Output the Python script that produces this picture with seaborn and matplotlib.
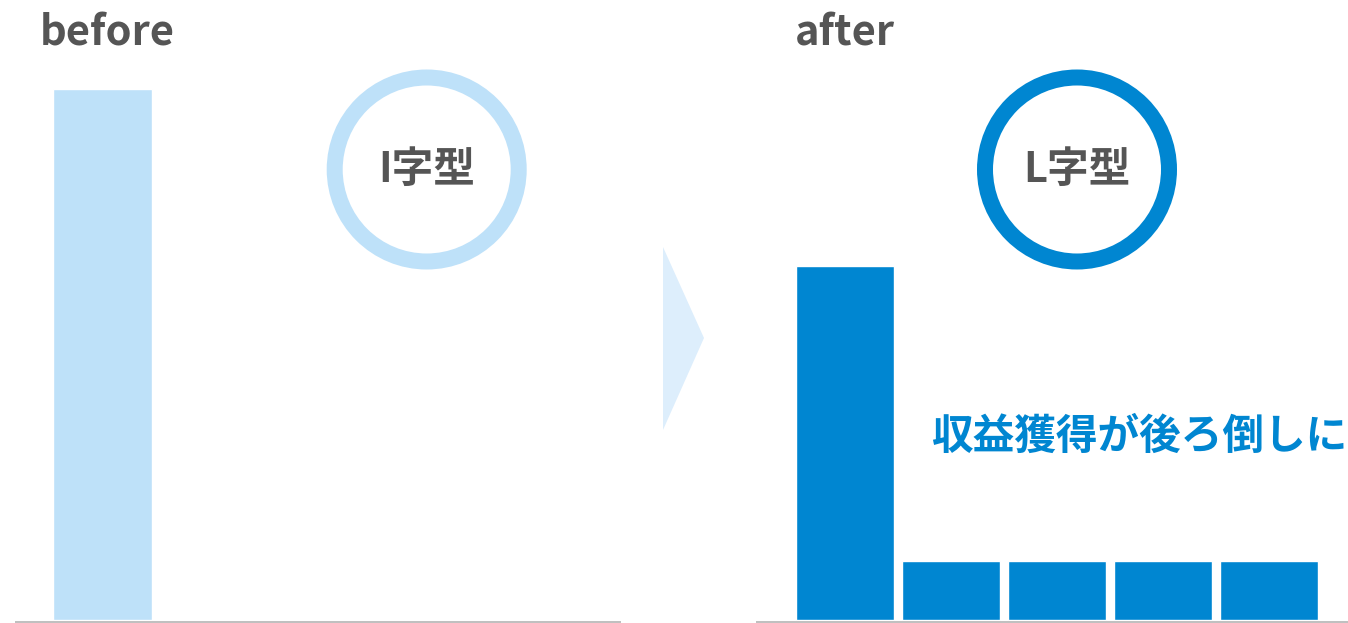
import matplotlib
matplotlib.use("Agg")
import matplotlib.pyplot as plt
from matplotlib.patches import Ellipse, Polygon
import pandas as pd
import seaborn as sns

# ---- data -------------------------------------------------------------
before_periods = ["1"]
before_values = [9]
after_periods = ["1", "2", "3", "4", "5"]
after_values = [6, 1, 1, 1, 1]

panel_titles = ["before", "after"]
shape_labels = ["I字型", "L字型"]
note_text = "収益獲得が後ろ倒しに"

# ---- style ------------------------------------------------------------
LIGHT_BLUE = "#bee1f9"
BLUE = "#0086d1"
ARROW_BLUE = "#ddeefc"
TEXT_GRAY = "#555555"
BASE_GRAY = "#c0c0c0"

sns.set_theme(style="white")
plt.rcParams["font.family"] = ["Noto Sans CJK JP", "DejaVu Sans"]

W, H = 1348, 623
fig = plt.figure(figsize=(W / 100, H / 100), dpi=100)
fig.patch.set_facecolor("white")


def fx(px):
    return px / W


def fy(py):
    return 1 - py / H


PX_PER_X = 106.0   # horizontal pixels per category step
PX_PER_Y = 59.0    # vertical pixels per value unit
AXIS_PY = 621.5    # pixel row of the axis line centre (from top)
ZERO_PY = 620.0    # pixel row where bars start


def make_panel(left_px, right_px, first_center_px, periods, values, color):
    ax = fig.add_axes([fx(left_px), fy(AXIS_PY), (right_px - left_px) / W, AXIS_PY / H])
    df = pd.DataFrame({"period": periods, "value": values})
    sns.barplot(data=df, x="period", y="value", color=color, saturation=1,
                width=0.925, ax=ax, errorbar=None)
    ax.set_xlim(-(first_center_px - left_px) / PX_PER_X,
                (right_px - first_center_px) / PX_PER_X)
    y0 = -(AXIS_PY - ZERO_PY) / PX_PER_Y
    ax.set_ylim(y0, y0 + AXIS_PY / PX_PER_Y)
    ax.set_xlabel("")
    ax.set_ylabel("")
    ax.set_xticks([])
    ax.set_yticks([])
    ax.set_facecolor("none")
    for side in ["left", "right", "top"]:
        ax.spines[side].set_visible(False)
    ax.spines["bottom"].set_color(BASE_GRAY)
    ax.spines["bottom"].set_linewidth(3 * 72 / 100)
    return ax


make_panel(16, 619, 102.5, before_periods, before_values, LIGHT_BLUE)
make_panel(757, 1348, 845, after_periods, after_values, BLUE)

# panel titles
fig.text(fx(40), fy(33), panel_titles[0], ha="left", va="center",
         fontsize=30, fontweight="bold", color=TEXT_GRAY)
fig.text(fx(795), fy(33), panel_titles[1], ha="left", va="center",
         fontsize=30, fontweight="bold", color=TEXT_GRAY)

# ring badges
ring_lw = 16 * 72 / 100
for (cx, cy), col, label in [((426.7, 169.5), LIGHT_BLUE, shape_labels[0]),
                             ((1077, 169.5), BLUE, shape_labels[1])]:
    ring = Ellipse((fx(cx), fy(cy)), width=184 / W, height=184 / H,
                   transform=fig.transFigure, facecolor="white",
                   edgecolor=col, linewidth=ring_lw)
    fig.add_artist(ring)
    fig.text(fx(cx), fy(cy), label, ha="center", va="center",
             fontsize=30, fontweight="bold", color=TEXT_GRAY)

# arrow between panels
arrow = Polygon([(fx(663), fy(247)), (fx(663), fy(430)), (fx(704), fy(338))],
                closed=True, transform=fig.transFigure,
                facecolor=ARROW_BLUE, edgecolor="none")
fig.add_artist(arrow)

# annotation on the after panel
fig.text(fx(931), fy(437), note_text, ha="left", va="center",
         fontsize=30, fontweight="bold", color=BLUE)

fig.savefig("out.png", dpi=100, facecolor="white")
